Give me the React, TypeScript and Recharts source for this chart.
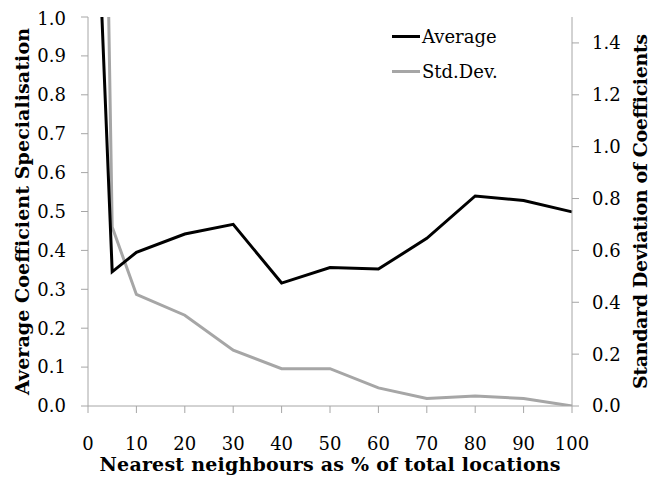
import React from "react"
import { LineChart, Line, XAxis, YAxis, Legend } from "recharts"

const xValues = [1, 5, 10, 20, 30, 40, 50, 60, 70, 80, 90, 100]
const average = [1.58, 0.345, 0.395, 0.442, 0.467, 0.316, 0.356, 0.352, 0.431, 0.54, 0.528, 0.499]
const stdDev = [5.2, 0.69, 0.43, 0.35, 0.215, 0.144, 0.144, 0.07, 0.029, 0.039, 0.029, 0.0]

const xTicks = [0, 10, 20, 30, 40, 50, 60, 70, 80, 90, 100]
const leftTicks = [0, 0.1, 0.2, 0.3, 0.4, 0.5, 0.6, 0.7, 0.8, 0.9, 1.0]
const rightTicks = [0, 0.2, 0.4, 0.6, 0.8, 1.0, 1.2, 1.4]

const FONT = "'DejaVu Serif', serif"
const AXIS = "#a6a6a6"

const data = xValues.map((x, i) => ({ x, average: average[i], stdDev: stdDev[i] }))

function SideTitle({ viewBox, text, dx, len }: any) {
  const cx = viewBox.x + dx
  const cy = viewBox.y + viewBox.height / 2
  return (
    <text
      x={cx}
      y={cy}
      transform={`rotate(-90, ${cx}, ${cy})`}
      textAnchor="middle"
      dominantBaseline="central"
      fontFamily={FONT}
      fontWeight="bold"
      fontSize={19}
      textLength={len}
      lengthAdjust="spacing"
      fill="#000"
    >
      {text}
    </text>
  )
}

function BottomTitle({ viewBox }: any) {
  return (
    <text
      x={viewBox.x + viewBox.width / 2}
      y={viewBox.y + 65}
      textAnchor="middle"
      fontFamily={FONT}
      fontWeight="bold"
      fontSize={19}
      textLength={461}
      lengthAdjust="spacing"
      fill="#000"
    >
      Nearest neighbours as % of total locations
    </text>
  )
}

function LegendBox() {
  const items = [
    { name: "Average", color: "#000" },
    { name: "Std.Dev.", color: "#a6a6a6" },
  ]
  return (
    <div style={{ fontFamily: FONT, fontSize: 18 }}>
      {items.map((it) => (
        <div key={it.name} style={{ display: "flex", alignItems: "center", height: 35 }}>
          <div style={{ width: 28, height: 3, background: it.color, marginRight: 2 }} />
          <span>{it.name}</span>
        </div>
      ))}
    </div>
  )
}

export default function App() {
  const tickStyle = { fill: "#000", fontSize: 18, fontFamily: FONT }
  return (
    <LineChart width={649} height={473} data={data} margin={{ top: 9, right: 8, bottom: 8, left: 0 }}>
      <XAxis
        dataKey="x"
        type="number"
        domain={[0, 100]}
        ticks={xTicks}
        height={67}
        stroke={AXIS}
        tickSize={7}
        tickMargin={24}
        tick={tickStyle}
        label={<BottomTitle />}
      />
      <YAxis
        yAxisId="left"
        domain={[0, 1]}
        ticks={leftTicks}
        allowDataOverflow
        width={80}
        stroke={AXIS}
        tickSize={7}
        tickMargin={15}
        tick={tickStyle}
        tickFormatter={(v: number) => v.toFixed(1)}
        label={<SideTitle text="Average Coefficient Specialisation" dx={14} len={367} />}
      />
      <YAxis
        yAxisId="right"
        orientation="right"
        domain={[0, 1.5]}
        ticks={rightTicks}
        allowDataOverflow
        width={77}
        stroke={AXIS}
        tickSize={7}
        tickMargin={13}
        tick={tickStyle}
        tickFormatter={(v: number) => v.toFixed(1)}
        label={<SideTitle text="Standard Deviation of Coefficients" dx={68} len={355} />}
      />
      <Legend
        layout="vertical"
        verticalAlign="middle"
        align="center"
        content={<LegendBox />}
        wrapperStyle={{ position: "absolute", left: 384, top: 11, width: 150 }}
      />
      <Line
        yAxisId="right"
        dataKey="stdDev"
        stroke="#a6a6a6"
        strokeWidth={3}
        dot={false}
        isAnimationActive={false}
      />
      <Line
        yAxisId="left"
        dataKey="average"
        stroke="#000"
        strokeWidth={3}
        dot={false}
        isAnimationActive={false}
      />
    </LineChart>
  )
}
